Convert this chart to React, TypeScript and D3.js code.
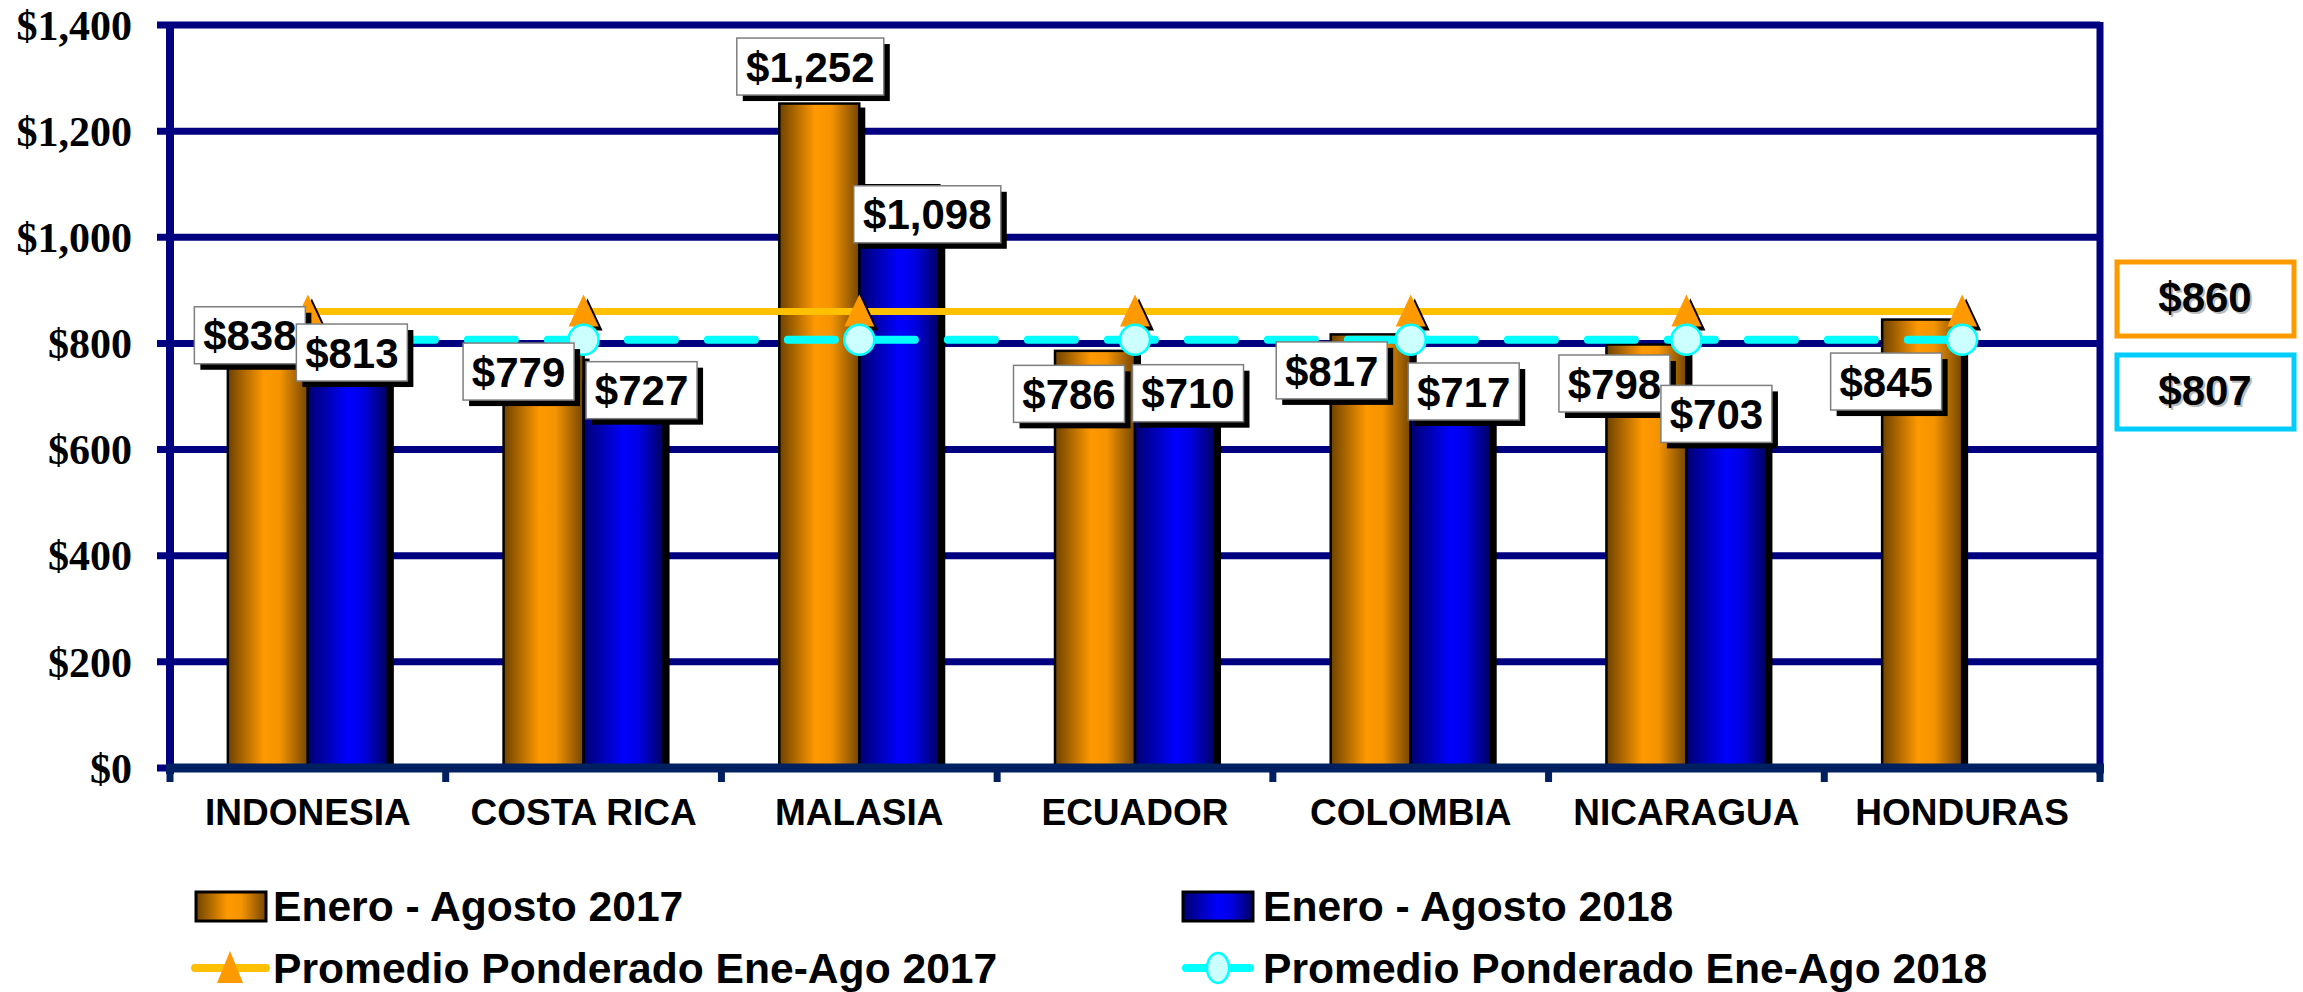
import React from 'react';
import * as d3 from 'd3';

const categories = ['INDONESIA', 'COSTA RICA', 'MALASIA', 'ECUADOR', 'COLOMBIA', 'NICARAGUA', 'HONDURAS'];
const values2017 = [838, 779, 1252, 786, 817, 798, 845];
const values2018: (number | null)[] = [813, 727, 1098, 710, 717, 703, null];
const avg2017 = 860;
const avg2018 = 807;
const yTicks = [0, 200, 400, 600, 800, 1000, 1200, 1400];
const legendLabels = [
  'Enero - Agosto 2017',
  'Enero - Agosto 2018',
  'Promedio Ponderado Ene-Ago 2017',
  'Promedio Ponderado Ene-Ago 2018',
];

// hand-placed label nudges (relative to bar center / bar top), like the original
const nudge2017 = [[-18, 12], [-25, 17], [-9, -37], [-26, 43], [-39, 36], [-32, 39], [-36, 62]];
const nudge2018 = [[4, 16], [18, 8], [28, 29], [13, 2], [13, 4], [-10, 19], [0, 0]];

const W = 2303;
const H = 992;
const left = 170, right = 2100, top = 25, bottom = 768;
const sans = '"Liberation Sans", Arial, sans-serif';
const serif = '"Liberation Serif", "Times New Roman", serif';

const fmt = (v: number) => '$' + d3.format(',')(v);

const ValueLabel = ({ x, y, text }: { x: number; y: number; text: string }) => {
  const w = 39 + 18 * text.length;
  const h = 57;
  return (
    <g transform={`translate(${x - w / 2},${y - h / 2})`}>
      <rect x={6} y={6} width={w} height={h} fill="#000" />
      <rect width={w} height={h} fill="#fff" stroke="#7f7f7f" strokeWidth={1.5} />
      <text x={w / 2} y={h / 2} dy="0.36em" textAnchor="middle" fontFamily={sans} fontWeight="bold" fontSize={42} fill="#000">
        {text}
      </text>
    </g>
  );
};

const Triangle = ({ x, y }: { x: number; y: number }) => (
  <g>
    <path d={`M${x + 4},${y - 13} L${x + 19},${y + 19} L${x - 11},${y + 19} Z`} fill="#000" />
    <path d={`M${x},${y - 17} L${x + 15},${y + 15} L${x - 15},${y + 15} Z`} fill="#FF9900" />
  </g>
);

const App = () => {
  const x0 = d3.scaleBand<string>().domain(categories).range([left, right]);
  const x1 = d3.scaleBand<string>().domain(['2017', '2018']).range([-80, 80]);
  const y = d3.scaleLinear().domain([0, 1400]).range([bottom, top]);
  const bw = x1.bandwidth();
  const center = (c: string) => (x0(c) as number) + x0.bandwidth() / 2;

  const avgLine = d3.line<string>().x(c => center(c)).y(() => 0);

  const bars: { c: string; s: string; v: number; i: number }[] = [];
  categories.forEach((c, i) => {
    bars.push({ c, s: '2017', v: values2017[i], i });
    if (values2018[i] != null) bars.push({ c, s: '2018', v: values2018[i] as number, i });
  });

  const legendY1 = 906;
  const legendY2 = 968;
  const legendFont = 42.6;

  return (
    <div style={{ position: 'absolute', left: 0, top: 0 }}>
      <svg width={W} height={H} viewBox={`0 0 ${W} ${H}`} style={{ display: 'block', background: '#fff' }}>
        <defs>
          <linearGradient id="gOrange" x1="0" x2="1" y1="0" y2="0">
            <stop offset="0%" stopColor="#6e4200" />
            <stop offset="45%" stopColor="#FF9900" />
            <stop offset="65%" stopColor="#f49400" />
            <stop offset="100%" stopColor="#744600" />
          </linearGradient>
          <linearGradient id="gBlue" x1="0" x2="1" y1="0" y2="0">
            <stop offset="0%" stopColor="#000070" />
            <stop offset="50%" stopColor="#0000FF" />
            <stop offset="70%" stopColor="#0000e0" />
            <stop offset="100%" stopColor="#000060" />
          </linearGradient>
        </defs>

        {/* gridlines */}
        {yTicks.map(t => (
          <g key={t}>
            <line x1={157} x2={right} y1={y(t)} y2={y(t)} stroke="#000080" strokeWidth={7} />
            <text x={132} y={y(t)} dy="0.35em" textAnchor="end" fontFamily={serif} fontWeight="bold" fontSize={42} fill="#000">
              {fmt(t)}
            </text>
          </g>
        ))}

        {/* axes */}
        <line x1={left} x2={left} y1={top - 3} y2={bottom + 6} stroke="#000080" strokeWidth={8} />
        <line x1={right} x2={right} y1={top - 3} y2={bottom + 6} stroke="#000080" strokeWidth={7} />

        {/* bars */}
        {bars.map(b => {
          const bx = center(b.c) + (x1(b.s) as number);
          return (
            <rect key={b.c + b.s + 's'} x={bx + 6} y={y(b.v) + 4} width={bw} height={bottom - y(b.v) - 4} fill="#000" />
          );
        })}
        {bars.map(b => {
          const bx = center(b.c) + (x1(b.s) as number);
          return (
            <rect
              key={b.c + b.s}
              x={bx}
              y={y(b.v)}
              width={bw}
              height={bottom - y(b.v)}
              fill={b.s === '2017' ? 'url(#gOrange)' : 'url(#gBlue)'}
              stroke="#000"
              strokeWidth={2.5}
            />
          );
        })}

        {/* x axis */}
        <line x1={left - 4} x2={right + 4} y1={bottom} y2={bottom} stroke="#002060" strokeWidth={9} />
        {[...categories.map(c => x0(c) as number), right].map((t, i) => (
          <line key={i} x1={t} x2={t} y1={bottom} y2={bottom + 14} stroke="#002060" strokeWidth={7} />
        ))}
        {categories.map(c => (
          <text key={c} x={center(c)} y={825} textAnchor="middle" fontFamily={sans} fontWeight="bold" fontSize={37} fill="#000">
            {c}
          </text>
        ))}

        {/* weighted average lines */}
        <g transform={`translate(0,${y(avg2017)})`}>
          <path d={avgLine(categories) as string} fill="none" stroke="#FFC000" strokeWidth={7} />
        </g>
        {categories.map(c => (
          <Triangle key={c} x={center(c)} y={y(avg2017)} />
        ))}
        <g transform={`translate(0,${y(avg2018)})`}>
          <path d={avgLine(categories) as string} fill="none" stroke="#00FFFF" strokeWidth={8} strokeDasharray="47 33" strokeLinecap="round" />
        </g>
        {categories.map(c => (
          <circle key={c} cx={center(c)} cy={y(avg2018)} r={15} fill="#CCFFFF" stroke="#00FFFF" strokeWidth={2.5} />
        ))}

        {/* value labels */}
        {bars.map(b => {
          const bx = center(b.c) + (x1(b.s) as number) + bw / 2;
          const n = b.s === '2017' ? nudge2017[b.i] : nudge2018[b.i];
          return <ValueLabel key={'l' + b.c + b.s} x={bx + n[0]} y={y(b.v) + n[1]} text={fmt(b.v)} />;
        })}

        {/* average boxes */}
        {[
          { v: avg2017, col: '#FF9900', y0: 262 },
          { v: avg2018, col: '#00CCFF', y0: 355 },
        ].map(d => (
          <g key={d.v}>
            <rect x={2117} y={d.y0} width={177} height={74} fill="#fff" stroke={d.col} strokeWidth={5} />
            <text x={2207} y={d.y0 + 37} dy="0.36em" textAnchor="middle" fontFamily={sans} fontWeight="bold" fontSize={42} fill="#bbb">
              {fmt(d.v)}
            </text>
            <text x={2205} y={d.y0 + 35} dy="0.36em" textAnchor="middle" fontFamily={sans} fontWeight="bold" fontSize={42} fill="#000">
              {fmt(d.v)}
            </text>
          </g>
        ))}

        {/* legend */}
        <rect x={196} y={legendY1 - 14} width={70} height={29} fill="url(#gOrange)" stroke="#000" strokeWidth={3} />
        <text x={273} y={legendY1} dy="0.36em" fontFamily={sans} fontWeight="bold" fontSize={legendFont}>{legendLabels[0]}</text>
        <rect x={1183} y={legendY1 - 14} width={70} height={29} fill="url(#gBlue)" stroke="#000" strokeWidth={3} />
        <text x={1263} y={legendY1} dy="0.36em" fontFamily={sans} fontWeight="bold" fontSize={legendFont}>{legendLabels[1]}</text>

        <line x1={195} x2={266} y1={legendY2} y2={legendY2} stroke="#FFC000" strokeWidth={8} strokeLinecap="round" />
        <path d={`M230,${legendY2 - 17} L243,${legendY2 + 15} L217,${legendY2 + 15} Z`} fill="#FF9900" />
        <text x={273} y={legendY2} dy="0.36em" fontFamily={sans} fontWeight="bold" fontSize={legendFont}>{legendLabels[2]}</text>
        <line x1={1186} x2={1250} y1={legendY2} y2={legendY2} stroke="#00FFFF" strokeWidth={8} strokeLinecap="round" />
        <ellipse cx={1218} cy={legendY2} rx={11} ry={15} fill="#CCFFFF" stroke="#00FFFF" strokeWidth={2.5} />
        <text x={1263} y={legendY2} dy="0.36em" fontFamily={sans} fontWeight="bold" fontSize={legendFont}>{legendLabels[3]}</text>
      </svg>
    </div>
  );
};

export default App;
